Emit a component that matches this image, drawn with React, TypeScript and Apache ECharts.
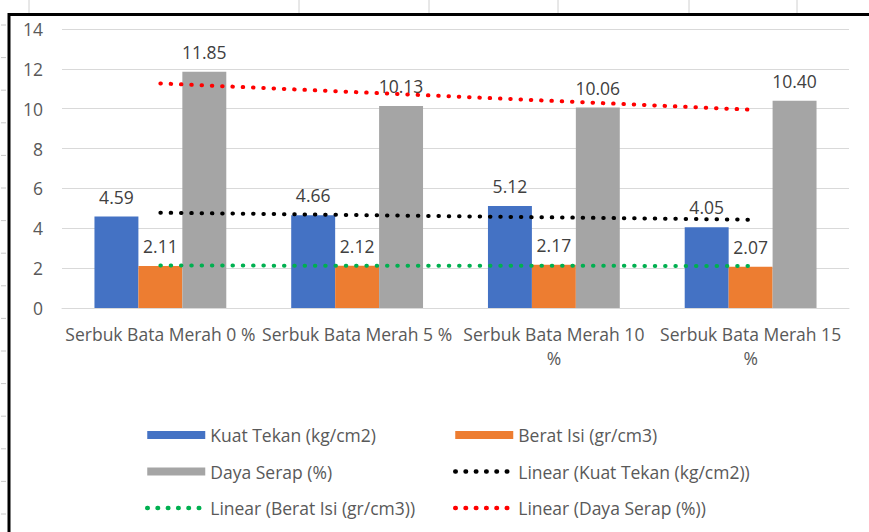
import React, { useEffect, useRef } from "react";
import * as echarts from "echarts";

const categories = [
  "Serbuk Bata Merah 0 %",
  "Serbuk Bata Merah 5 %",
  "Serbuk Bata Merah 10 %",
  "Serbuk Bata Merah 15 %",
];
const kuatTekan = [4.59, 4.66, 5.12, 4.05];
const beratIsi = [2.11, 2.12, 2.17, 2.07];
const dayaSerap = [11.85, 10.13, 10.06, 10.4];
// trendline end points, at first and last category
const trendKuatTekan = [4.78, 4.43];
const trendBeratIsi = [2.13, 2.11];
const trendDayaSerap = [11.27, 9.95];
const yTicks = { min: 0, max: 14, interval: 2 };

const FONT = "'Open Sans', sans-serif";
const TXT = "#595959";
const FS = 17.5;

export default function App() {
  const ref = useRef<HTMLDivElement>(null);
  useEffect(() => {
    if (!ref.current) return;
    const chart = echarts.init(ref.current, undefined, { renderer: "svg" });
    const dotted = (color: string) => ({
      color,
      width: 4,
      type: [0.5, 9.8] as any,
      cap: "round" as const,
    });
    const barLabel = {
      show: true,
      position: "top" as const,
      distance: 11,
      fontSize: FS,
      fontFamily: FONT,
      color: "#404040",
      formatter: (p: any) => Number(p.value).toFixed(2),
    };
    const trendSeries = (name: string, pts: number[], color: string) => ({
      name,
      type: "line",
      xAxisIndex: 1,
      yAxisIndex: 0,
      symbol: "none",
      data: [
        [1, pts[0]],
        [categories.length, pts[1]],
      ],
      lineStyle: dotted(color),
      itemStyle: { color },
      z: 5,
    });
    const gridTicks: any[] = [];
    for (let y = 25; y < 532; y += 32.6) {
      gridTicks.push({
        type: "line",
        shape: { x1: 1, y1: y, x2: 6, y2: y },
        style: { stroke: "#c8c8c8", lineWidth: 1 },
      });
    }
    const topLines = [29, 299, 429, 558, 689, 797].map((x) => ({
      type: "line",
      shape: { x1: x, y1: 0, x2: x, y2: 13 },
      style: { stroke: "#d0d0d0", lineWidth: 1 },
    }));
    const legendCommon = {
      orient: "vertical" as const,
      itemWidth: 58,
      itemHeight: 8,
      itemGap: 18.5,
      padding: 0,
      top: 426,
      textStyle: { fontSize: FS, fontFamily: FONT, color: TXT, lineHeight: 18 },
    };
    const lineItem = (name: string, color: string) => ({
      name,
      itemStyle: { opacity: 0 },
      lineStyle: { ...dotted(color), width: 4.5 },
    });
    chart.setOption({
      animation: false,
      backgroundColor: "#ffffff",
      textStyle: { fontFamily: FONT },
      graphic: [
        ...gridTicks,
        ...topLines,
        {
          type: "line",
          shape: { x1: 8, y1: 14.5, x2: 869, y2: 14.5 },
          style: { stroke: "#000", lineWidth: 3 },
        },
        {
          type: "line",
          shape: { x1: 9, y1: 13, x2: 9, y2: 532 },
          style: { stroke: "#000", lineWidth: 3 },
        },
      ],
      grid: { left: 62, right: 20, top: 29, bottom: 224, containLabel: false },
      xAxis: [
        {
          type: "category",
          data: categories,
          axisLine: { show: true, lineStyle: { color: "#d9d9d9", width: 1 } },
          axisTick: { show: false },
          axisLabel: {
            interval: 0,
            margin: 14,
            fontSize: FS,
            fontFamily: FONT,
            color: TXT,
            lineHeight: 24,
            formatter: (v: string) =>
              v.length > 21 ? v.replace(/ %$/, "\n%") : v,
          },
        },
        {
          type: "value",
          min: 0.5,
          max: categories.length + 0.5,
          show: false,
        },
      ],
      yAxis: {
        type: "value",
        min: yTicks.min,
        max: yTicks.max,
        interval: yTicks.interval,
        axisLine: { show: false },
        axisTick: { show: false },
        splitLine: { lineStyle: { color: "#d9d9d9", width: 1 } },
        axisLabel: {
          margin: 19,
          fontSize: FS,
          fontFamily: FONT,
          color: TXT,
        },
      },
      legend: [
        {
          ...legendCommon,
          left: 145,
          data: [
            { name: "Kuat Tekan (kg/cm2)", icon: "rect" },
            { name: "Daya Serap (%)", icon: "rect" },
            lineItem("Linear (Berat Isi (gr/cm3))", "#00B050"),
          ],
        },
        {
          ...legendCommon,
          left: 453,
          data: [
            { name: "Berat Isi (gr/cm3)", icon: "rect" },
            lineItem("Linear (Kuat Tekan (kg/cm2))", "#000000"),
            lineItem("Linear (Daya Serap (%))", "#FF0000"),
          ],
        },
      ],
      series: [
        {
          name: "Kuat Tekan (kg/cm2)",
          type: "bar",
          data: kuatTekan,
          barGap: "0%",
          barCategoryGap: "33%",
          itemStyle: { color: "#4472C4" },
          label: barLabel,
        },
        {
          name: "Berat Isi (gr/cm3)",
          type: "bar",
          data: beratIsi,
          barGap: "0%",
          barCategoryGap: "33%",
          itemStyle: { color: "#ED7D31" },
          label: barLabel,
        },
        {
          name: "Daya Serap (%)",
          type: "bar",
          data: dayaSerap,
          barGap: "0%",
          barCategoryGap: "33%",
          itemStyle: { color: "#A5A5A5" },
          label: barLabel,
        },
        trendSeries("Linear (Kuat Tekan (kg/cm2))", trendKuatTekan, "#000000"),
        trendSeries("Linear (Berat Isi (gr/cm3))", trendBeratIsi, "#00B050"),
        trendSeries("Linear (Daya Serap (%))", trendDayaSerap, "#FF0000"),
      ],
    });
    return () => chart.dispose();
  }, []);
  return (
    <div
      ref={ref}
      style={{ position: "absolute", left: 0, top: 0, width: 869, height: 532 }}
    />
  );
}
